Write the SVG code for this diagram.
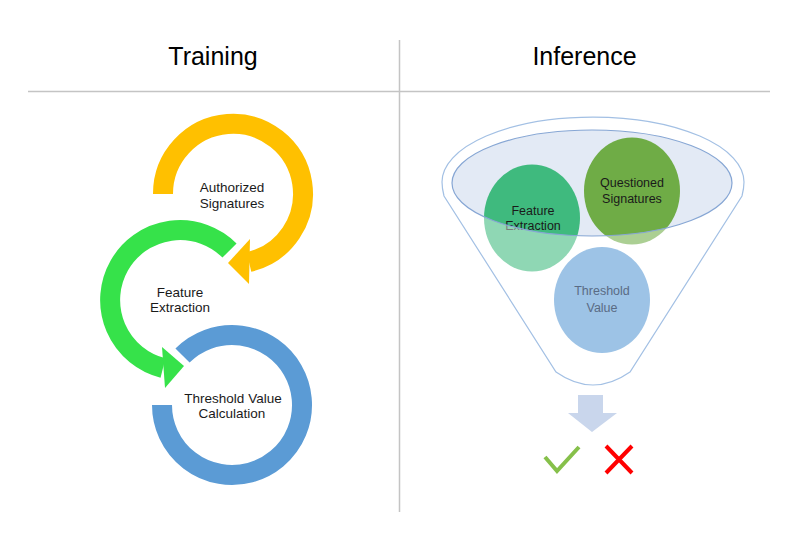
<svg xmlns="http://www.w3.org/2000/svg" width="800" height="550" viewBox="0 0 800 550">
<style>
.hdr{font-family:"Liberation Sans",Arial,sans-serif;font-size:25px;fill:#000;text-anchor:middle}
.lbl{font-family:"Liberation Sans",Arial,sans-serif;font-size:13.5px;fill:#1a1a1a;text-anchor:middle}
.cl{font-family:"Liberation Sans",Arial,sans-serif;font-size:12.5px;fill:#1a1a1a;text-anchor:middle}
.ring{fill:none;stroke-width:20;stroke-linecap:butt}
.sep{stroke:#c4c4c4;stroke-width:1.5;fill:none}
.fun{fill:none;stroke:#a3c0e4;stroke-width:1.2}
</style>
<rect width="800" height="550" fill="#fff"/>
<g id="layout">
<line class="sep" x1="28" y1="91.5" x2="770" y2="91.5"/>
<line class="sep" x1="399.5" y1="40" x2="399.5" y2="512"/>
<text class="hdr" x="213" y="65">Training</text>
<text class="hdr" x="584.5" y="65">Inference</text>
</g>
<g id="authorized">
<path class="ring" stroke="#FFC000" d="M163,194 A70,70 0 1 1 249,262"/>
<polygon fill="#FFC000" points="250,239 249,284 228,263"/>
<text class="lbl" x="232" y="192">Authorized</text>
<text class="lbl" x="232" y="208">Signatures</text>
</g>
<g id="feature">
<path class="ring" stroke="#36E24A" d="M229.5,250.5 A70,70 0 1 0 163,368"/>
<polygon fill="#36E24A" points="162,347 165,388 184,366"/>
<text class="lbl" x="180" y="297">Feature</text>
<text class="lbl" x="180" y="312">Extraction</text>
</g>
<g id="threshold">
<path class="ring" stroke="#5B9BD5" d="M162,405 A70,70 0 1 0 182.5,355.5"/>
<text class="lbl" x="233" y="403">Threshold Value</text>
<text class="lbl" x="232" y="418">Calculation</text>
</g>
<g id="funnel-mouth">
<ellipse cx="592" cy="183" rx="140" ry="53" fill="#E3EAF5"/>
</g>
<g id="inf-feature">
<ellipse cx="532" cy="218" rx="48" ry="53.5" fill="#3FBA7E"/>
<text class="cl" x="533" y="215">Feature</text>
<text class="cl" x="533" y="230">Extraction</text>
</g>
<g id="inf-questioned">
<ellipse cx="632" cy="191" rx="48" ry="53.5" fill="#6FAC46"/>
<text class="cl" x="632" y="187">Questioned</text>
<text class="cl" x="632" y="203">Signatures</text>
</g>
<g id="funnel">
<path fill="#fff" fill-opacity="0.42" fill-rule="evenodd" d="M442,182 A151,65 0 0 1 744,182 C744,188 743,192 742,196 L630,372 Q593,398 556,372 L444,196 C443,192 442,188 442,182 Z M452,183 A140,53 0 0 0 732,183 A140,53 0 0 0 452,183 Z"/>
<path class="fun" d="M442,182 A151,65 0 0 1 744,182 C744,188 743,192 742,196 L630,372 Q593,398 556,372 L444,196 C443,192 442,188 442,182 Z"/>
<ellipse cx="592" cy="183" rx="140" ry="53" fill="none" stroke="#86A6D4" stroke-width="1.2"/>
</g>
<g id="inf-threshold">
<ellipse cx="602" cy="300" rx="48" ry="53" fill="#9DC3E6"/>
<text class="cl" x="602" y="295" style="fill:#5A6B84">Threshold</text>
<text class="cl" x="602" y="312" style="fill:#5A6B84">Value</text>
</g>
<g id="result-arrow">
<polygon fill="#C9D6EC" points="578,395 603,395 603,413 617,413 592,432 568,413 578,413"/>
</g>
<g id="accept">
<polyline points="545,457 557,471 579,447" fill="none" stroke="#86C04A" stroke-width="4"/>
</g>
<g id="reject">
<path d="M606,446 L632,473 M632,446 L606,473" stroke="#FF0000" stroke-width="4" fill="none"/>
</g>
</svg>
